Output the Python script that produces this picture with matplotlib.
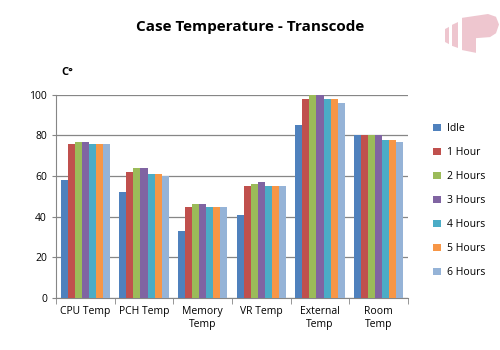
import numpy as np
import matplotlib
matplotlib.use("Agg")
import matplotlib.pyplot as plt
from matplotlib.patches import Polygon

categories = ["CPU Temp", "PCH Temp", "Memory\nTemp", "VR Temp", "External\nTemp", "Room\nTemp"]
series_names = ["Idle", "1 Hour", "2 Hours", "3 Hours", "4 Hours", "5 Hours", "6 Hours"]
idle = [58, 52, 33, 41, 85, 80]
hour1 = [76, 62, 45, 55, 98, 80]
hour2 = [77, 64, 46, 56, 100, 80]
hour3 = [77, 64, 46, 57, 100, 80]
hour4 = [76, 61, 45, 55, 98, 78]
hour5 = [76, 61, 45, 55, 98, 78]
hour6 = [76, 60, 45, 55, 96, 77]
series = [idle, hour1, hour2, hour3, hour4, hour5, hour6]
colors = ["#4F81BD", "#C0504D", "#9BBB59", "#8064A2", "#4BACC6", "#F79646", "#95B3D7"]

plt.rcParams["font.family"] = ["Open Sans", "DejaVu Sans"]

fig = plt.figure(figsize=(5, 3.5), dpi=100)
ax = fig.add_axes([0.112, 0.149, 0.704, 0.580])

n = len(series)
x = np.arange(len(categories))
bw = 0.84 / n
for i, (vals, c) in enumerate(zip(series, colors)):
    ax.bar(x - 0.42 + bw * (i + 0.5), vals, width=bw, color=c,
           label=series_names[i], zorder=3, linewidth=0)

ax.set_xlim(-0.5, len(categories) - 0.5)
ax.set_ylim(0, 100)
ax.set_yticks(range(0, 101, 20))
ax.tick_params(axis="y", labelsize=7.5, length=3, color="#868686")
ax.set_xticks(x)
ax.set_xticklabels(categories, fontsize=7.5)
ax.tick_params(axis="x", length=0, pad=6)
ax.set_xticks(np.arange(-0.5, len(categories)), minor=True)
ax.tick_params(axis="x", which="minor", length=4, color="#868686")
ax.grid(axis="y", color="#868686", linewidth=0.9, zorder=0)
for s in ["top", "right"]:
    ax.spines[s].set_visible(False)
for s in ["left", "bottom"]:
    ax.spines[s].set_color("#868686")

fig.text(0.5, 0.923, "Case Temperature - Transcode", ha="center", va="center",
         fontsize=11, fontweight="bold")
fig.text(0.122, 0.793, "C°", ha="left", va="center", fontsize=8, fontweight="bold")

fig.legend(loc="center left", bbox_to_anchor=(0.848, 0.426), frameon=False,
           fontsize=7.5, handlelength=0.7, handleheight=0.7,
           handletextpad=0.6, labelspacing=1.25)

# faint logo in the top-right corner
logo = "#EEC6CF"
shapes = [
    [(0.89, 0.917), (0.898, 0.923), (0.898, 0.874), (0.89, 0.88)],
    [(0.904, 0.929), (0.916, 0.937), (0.916, 0.863), (0.904, 0.869)],
    [(0.924, 0.949), (0.976, 0.96), (0.992, 0.952), (0.998, 0.93), (0.992, 0.905),
     (0.98, 0.894), (0.952, 0.891), (0.952, 0.849), (0.924, 0.857)],
]
for pts in shapes:
    fig.patches.append(Polygon(pts, closed=True, transform=fig.transFigure,
                               color=logo, linewidth=0))

fig.savefig("out.png", dpi=100)
